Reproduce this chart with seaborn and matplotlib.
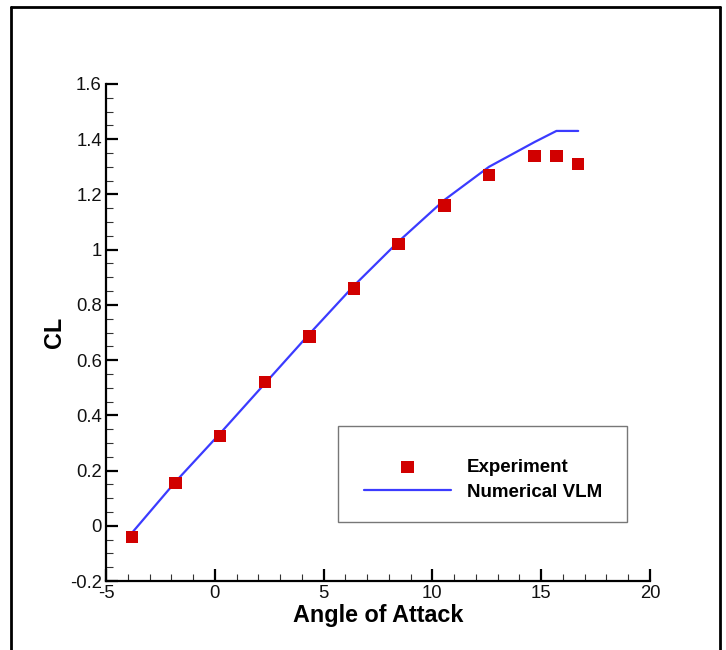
import matplotlib
matplotlib.use("Agg")
import matplotlib.pyplot as plt
from matplotlib.lines import Line2D
from matplotlib.patches import Rectangle
from matplotlib.ticker import MultipleLocator, FuncFormatter
import seaborn as sns
import pandas as pd

# Data
exp_alpha = [-3.8, -1.8, 0.25, 2.3, 4.35, 6.4, 8.45, 10.55, 12.6, 14.7, 15.7, 16.7]
exp_cl = [-0.04, 0.155, 0.325, 0.52, 0.685, 0.86, 1.02, 1.16, 1.27, 1.34, 1.34, 1.31]
vlm_alpha = [-3.8, -1.8, 0.25, 2.3, 4.35, 6.4, 8.45, 10.55, 12.6, 14.7, 15.7, 16.7]
vlm_cl = [-0.025, 0.16, 0.335, 0.515, 0.695, 0.87, 1.03, 1.18, 1.30, 1.39, 1.43, 1.43]

sns.set_theme(style="white")
plt.rcParams['font.family'] = ['Liberation Sans', 'DejaVu Sans']
plt.rcParams['text.color'] = 'black'
plt.rcParams['axes.labelcolor'] = 'black'

fig = plt.figure(figsize=(7.26, 6.5), dpi=100)
ax = fig.add_axes([106/726, 1-581/650, 544/726, 497/650])

df_exp = pd.DataFrame({"alpha": exp_alpha, "CL": exp_cl})
df_vlm = pd.DataFrame({"alpha": vlm_alpha, "CL": vlm_cl})

sns.lineplot(data=df_vlm, x="alpha", y="CL", ax=ax, color="#3b3bff", lw=1.6,
             label="Numerical VLM", zorder=2)
sns.scatterplot(data=df_exp, x="alpha", y="CL", ax=ax, marker="s", s=80,
                color="#d10000", edgecolor="none", label="Experiment", zorder=3)

ax.set_xlim(-5, 20)
ax.set_ylim(-0.2, 1.6)
ax.xaxis.set_major_locator(MultipleLocator(5))
ax.xaxis.set_minor_locator(MultipleLocator(1))
ax.yaxis.set_major_locator(MultipleLocator(0.2))
ax.yaxis.set_minor_locator(MultipleLocator(0.05))
fmt = FuncFormatter(lambda v, p: f"{round(v, 6):g}")
ax.xaxis.set_major_formatter(fmt)
ax.yaxis.set_major_formatter(fmt)

for s in ["top", "right"]:
    ax.spines[s].set_visible(False)
for s in ["left", "bottom"]:
    ax.spines[s].set_linewidth(1.6)
    ax.spines[s].set_color("black")

ax.tick_params(which="major", direction="in", length=8.5, width=1.6,
               labelsize=13.3, colors="black", labelcolor="#111111", pad=3,
               left=True, bottom=True)
ax.tick_params(which="minor", direction="in", length=5, width=0.8,
               colors="#333333", left=True, bottom=True)

ax.set_xlabel("Angle of Attack", fontsize=16.8, fontweight="bold", labelpad=1)
ax.set_ylabel("CL", fontsize=16.8, fontweight="bold", labelpad=2.5)

# legend box frame
ax.add_patch(Rectangle((0.426, 0.119), 0.532, 0.193, transform=ax.transAxes,
                       facecolor="white", edgecolor="#777777", lw=1.0, zorder=4))

handles, labels = ax.get_legend_handles_labels()
order = [labels.index("Experiment"), labels.index("Numerical VLM")]
leg = ax.legend([handles[i] for i in order], [labels[i] for i in order],
                loc="center", bbox_to_anchor=(0.426, 0.107, 0.532, 0.193),
                mode="expand", borderpad=1.42, handlelength=4.6,
                handletextpad=0.85, labelspacing=0.39, frameon=False,
                prop={"weight": "bold", "size": 13.5},
                borderaxespad=0)
leg.set_zorder(5)
for t in leg.get_texts():
    t.set_color("black")

# outer frame
lw = 2.0
fig.add_artist(Line2D([11/726, 11/726], [0, 1-7/650], transform=fig.transFigure, color="black", lw=lw))
fig.add_artist(Line2D([11/726, 720/726], [1-7/650, 1-7/650], transform=fig.transFigure, color="black", lw=lw))
fig.add_artist(Line2D([720/726, 720/726], [1-7/650, 0], transform=fig.transFigure, color="black", lw=lw))

fig.savefig("out.png", dpi=100)
